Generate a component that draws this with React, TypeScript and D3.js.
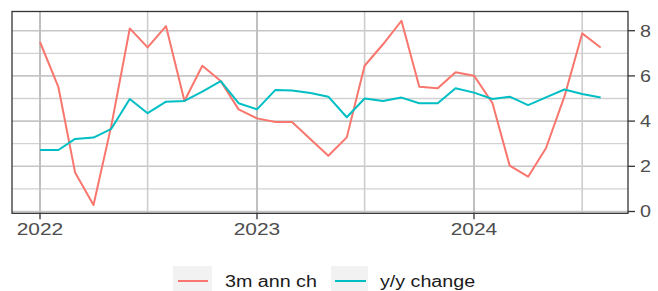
import React, { useEffect, useRef } from 'react';
import * as d3 from 'd3';

// monthly observations, Jan 2022 - Aug 2024
const months = [
  '2022-01', '2022-02', '2022-03', '2022-04', '2022-05', '2022-06', '2022-07', '2022-08',
  '2022-09', '2022-10', '2022-11', '2022-12', '2023-01', '2023-02', '2023-03', '2023-04',
  '2023-05', '2023-06', '2023-07', '2023-08', '2023-09', '2023-10', '2023-11', '2023-12',
  '2024-01', '2024-02', '2024-03', '2024-04', '2024-05', '2024-06', '2024-07', '2024-08'
];
const annCh3m = [
  7.5, 5.5, 1.73, 0.29, 3.8, 8.1, 7.26, 8.2, 4.89, 6.45, 5.77, 4.52, 4.12, 3.96, 3.96, 3.2,
  2.47, 3.28, 6.45, 7.4, 8.44, 5.52, 5.45, 6.16, 6.01, 4.8, 2.03, 1.54, 2.8, 5.08, 7.88, 7.26
];
const yoyChange = [
  2.72, 2.72, 3.21, 3.27, 3.66, 4.98, 4.35, 4.86, 4.89, 5.3, 5.77, 4.79, 4.52, 5.38, 5.35, 5.24,
  5.08, 4.17, 5.0, 4.89, 5.04, 4.79, 4.79, 5.45, 5.26, 4.98, 5.08, 4.71, 5.05, 5.4, 5.2, 5.04
];
const yTicks = [0, 2, 4, 6, 8];
const yMinor = [1, 3, 5, 7];
const xYears = ['2022', '2023', '2024'];
const xMinor = ['2022-07', '2023-07', '2024-07'];
const seriesNames = ['3m ann ch', 'y/y change'];
const colors = ['#F8766D', '#00BFC4'];

const parse = d3.timeParse('%Y-%m');
const STRETCH = 1.23;

function App() {
  const ref = useRef<SVGSVGElement | null>(null);

  useEffect(() => {
    const svg = d3.select(ref.current);
    svg.selectAll('*').remove();

    const x = d3.scaleTime()
      .domain([parse('2022-01') as Date, parse('2024-01') as Date])
      .range([40, 474]);
    const y = d3.scaleLinear().domain([0, 8]).range([211.5, 30.7]);

    const left = 12, right = 628, top = 11.5, bottom = 213.3;

    const stxt = (g: any, tx: number, ty: number, s: string, size: number, anchor: string, fill: string) =>
      g.append('text')
        .attr('transform', `translate(${tx},${ty}) scale(${STRETCH},1)`)
        .attr('text-anchor', anchor)
        .attr('font-family', 'Liberation Sans, Arial, sans-serif')
        .attr('font-size', size)
        .attr('fill', fill)
        .text(s);

    const grid = svg.append('g');
    yMinor.forEach((v) => grid.append('line').attr('x1', left).attr('x2', right)
      .attr('y1', y(v)).attr('y2', y(v)).attr('stroke', '#d2d2d2').attr('stroke-width', 1.3));
    yTicks.forEach((v) => grid.append('line').attr('x1', left).attr('x2', right)
      .attr('y1', y(v)).attr('y2', y(v)).attr('stroke', '#c6c6c6').attr('stroke-width', 1.6));
    xMinor.forEach((m) => grid.append('line').attr('x1', x(parse(m) as Date)).attr('x2', x(parse(m) as Date))
      .attr('y1', top).attr('y2', bottom).attr('stroke', '#cdcdcd').attr('stroke-width', 1.6));
    xYears.forEach((yr) => grid.append('line').attr('x1', x(parse(yr + '-01') as Date)).attr('x2', x(parse(yr + '-01') as Date))
      .attr('y1', top).attr('y2', bottom).attr('stroke', '#c0c0c0').attr('stroke-width', 2));

    const dates = months.map((m) => parse(m) as Date);
    const line = d3.line<number>()
      .x((_, i) => x(dates[i]))
      .y((d) => y(d));

    [annCh3m, yoyChange].forEach((vals, k) => {
      svg.append('path')
        .datum(vals)
        .attr('fill', 'none')
        .attr('stroke', colors[k])
        .attr('stroke-width', 2)
        .attr('stroke-linejoin', 'round')
        .attr('d', line);
    });

    svg.append('rect')
      .attr('x', left).attr('y', top)
      .attr('width', right - left).attr('height', bottom - top)
      .attr('fill', 'none').attr('stroke', '#333').attr('stroke-width', 1.3);

    const axes = svg.append('g');
    yTicks.forEach((v) => {
      axes.append('line').attr('x1', right).attr('x2', right + 7)
        .attr('y1', y(v)).attr('y2', y(v)).attr('stroke', '#333').attr('stroke-width', 1.3);
      stxt(axes, right + 12, y(v) + 5.8, String(v), 16, 'start', '#4d4d4d');
    });
    xYears.forEach((yr) => {
      const px = x(parse(yr + '-01') as Date);
      axes.append('line').attr('x1', px).attr('x2', px)
        .attr('y1', bottom).attr('y2', bottom + 6).attr('stroke', '#333').attr('stroke-width', 1.3);
      stxt(axes, px, 235, yr, 17, 'middle', '#4d4d4d');
    });

    const legend = svg.append('g');
    const keys = [
      { box: [173, 212], ln: [178, 208], tx: 225 },
      { box: [331, 368], ln: [335, 366], tx: 380 }
    ];
    keys.forEach((kk, k) => {
      legend.append('rect').attr('x', kk.box[0]).attr('y', 266)
        .attr('width', kk.box[1] - kk.box[0]).attr('height', 30).attr('fill', '#f2f2f2');
      legend.append('line').attr('x1', kk.ln[0]).attr('x2', kk.ln[1])
        .attr('y1', 281).attr('y2', 281).attr('stroke', colors[k]).attr('stroke-width', 2);
      stxt(legend, kk.tx, 287, seriesNames[k], 16, 'start', '#1a1a1a');
    });
  }, []);

  return (
    <svg ref={ref} width={658} height={291}
      style={{ position: 'absolute', left: 0, top: 0, background: '#fff' }} />
  );
}

export default App;
